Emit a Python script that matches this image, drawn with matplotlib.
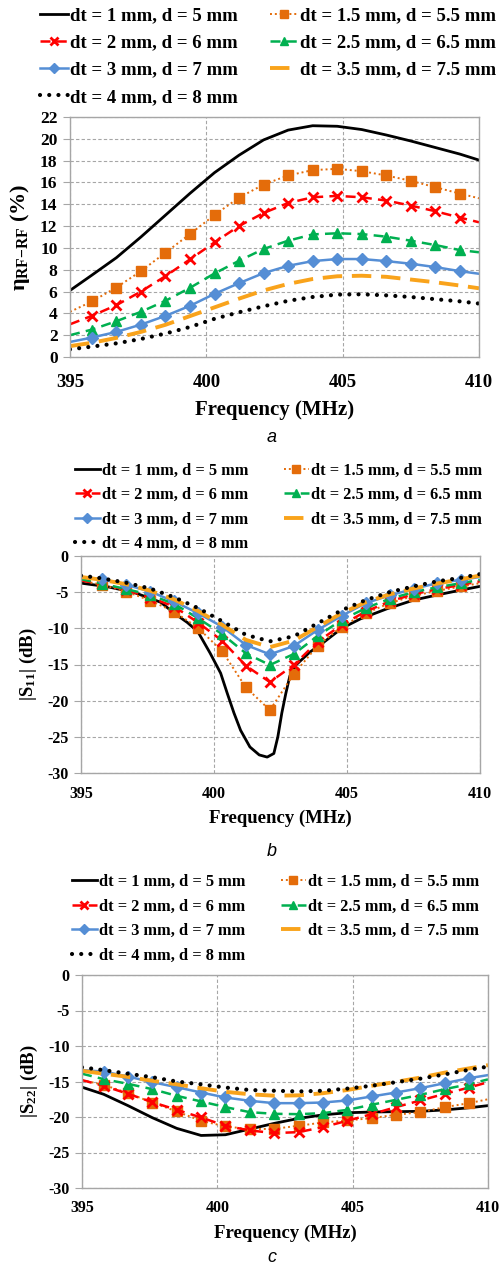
import matplotlib
matplotlib.use("Agg")
import matplotlib.pyplot as plt
from matplotlib.lines import Line2D

plt.rcParams['font.family'] = ['Liberation Serif', 'DejaVu Serif']
plt.rcParams['font.weight'] = 'bold'
plt.rcParams['axes.unicode_minus'] = False
plt.rcParams['mathtext.fontset'] = 'custom'
plt.rcParams['mathtext.rm'] = 'Liberation Serif:bold'
plt.rcParams['mathtext.it'] = 'Liberation Serif:bold'
plt.rcParams['mathtext.bf'] = 'Liberation Serif:bold'

# ---------------- data ----------------
freq = [395, 395.8, 396.7, 397.6, 398.5, 399.4, 400.3, 401.2, 402.1, 403.0,
        403.9, 404.8, 405.7, 406.6, 407.5, 408.4, 409.3, 410]

labels = ["dt = 1 mm, d = 5 mm", "dt = 1.5 mm, d = 5.5 mm", "dt = 2 mm, d = 6 mm",
          "dt = 2.5 mm, d = 6.5 mm", "dt = 3 mm, d = 7 mm", "dt = 3.5 mm, d = 7.5 mm",
          "dt = 4 mm, d = 8 mm"]

# (a) efficiency (%)
eff_dt1 = [6.1, 7.5, 9.1, 11.0, 13.0, 15.0, 16.9, 18.5, 19.9, 20.8, 21.2, 21.15, 20.85, 20.35, 19.8, 19.2, 18.6, 18.05]
eff_dt15 = [4.14, 5.09, 6.37, 7.87, 9.56, 11.27, 13.02, 14.61, 15.81, 16.64, 17.13, 17.25, 17.03, 16.64, 16.15, 15.56, 14.98, 14.55]
eff_dt2 = [3.0, 3.77, 4.75, 6.0, 7.41, 8.95, 10.51, 12.01, 13.2, 14.12, 14.64, 14.77, 14.64, 14.34, 13.88, 13.36, 12.78, 12.35]
eff_dt25 = [2.0, 2.51, 3.28, 4.14, 5.15, 6.34, 7.66, 8.82, 9.9, 10.66, 11.24, 11.34, 11.27, 11.03, 10.66, 10.26, 9.8, 9.6]
eff_dt3 = [1.38, 1.78, 2.3, 2.97, 3.77, 4.69, 5.79, 6.77, 7.69, 8.36, 8.79, 8.98, 8.98, 8.79, 8.55, 8.24, 7.87, 7.63]
eff_dt35 = [1.0, 1.3, 1.75, 2.3, 2.95, 3.75, 4.55, 5.35, 6.1, 6.7, 7.15, 7.4, 7.45, 7.35, 7.1, 6.85, 6.55, 6.3]
eff_dt4 = [0.7, 0.95, 1.25, 1.65, 2.15, 2.75, 3.5, 4.1, 4.65, 5.15, 5.5, 5.72, 5.75, 5.65, 5.5, 5.3, 5.1, 4.9]

# (b) |S11| (dB)
freq_s11_dt1 = [395, 396, 397, 398, 398.5, 399, 399.4, 399.85, 400.25, 400.5, 400.75, 401.0,
                401.35, 401.7, 402.0, 402.25, 402.4, 402.55, 402.7, 402.85, 403.1, 403.6,
                404.1, 404.8, 405.5, 406.5, 407.5, 408.5, 409.3, 410]
s11_dt1 = [-3.75, -4.25, -5.05, -6.4, -7.9, -9.2, -10.5, -13.4, -16.2, -19.0, -21.7, -24.1,
           -26.4, -27.5, -27.8, -27.3, -25.0, -21.7, -19.0, -16.6, -15.0, -13.3,
           -12.0, -10.0, -8.7, -7.3, -6.1, -5.3, -4.7, -4.2]
s11_dt15 = [-3.4, -3.98, -4.91, -6.16, -7.68, -9.94, -13.13, -18.17, -21.31, -16.32, -12.39, -9.76, -7.91, -6.53, -5.51, -4.81, -4.21, -3.75]
s11_dt2 = [-3.4, -3.89, -4.68, -5.74, -6.99, -9.2, -11.7, -15.17, -17.43, -15.07, -11.84, -9.53, -7.68, -6.29, -5.28, -4.58, -3.98, -3.5]
s11_dt25 = [-3.2, -3.84, -4.58, -5.37, -6.62, -8.6, -10.78, -13.46, -15.07, -13.55, -11.05, -8.84, -7.22, -5.92, -5.0, -4.31, -3.75, -3.3]
s11_dt3 = [-2.9, -3.2, -3.98, -4.91, -6.29, -7.91, -9.76, -12.3, -13.6, -12.44, -10.22, -8.28, -6.52, -5.46, -4.54, -3.75, -3.29, -2.9]
s11_dt35 = [-2.9, -3.3, -3.9, -4.8, -6.0, -7.6, -9.5, -11.6, -12.6, -11.7, -9.8, -7.9, -6.4, -5.3, -4.5, -3.8, -3.2, -2.7]
s11_dt4 = [-2.7, -3.1, -3.7, -4.5, -5.7, -7.2, -9.0, -10.9, -11.8, -11.1, -9.3, -7.5, -6.1, -5.0, -4.2, -3.5, -3.0, -2.5]

# (c) |S22| (dB)
s22_dt1 = [-15.8, -16.8, -18.4, -20.1, -21.6, -22.6, -22.5, -21.7, -20.9, -20.2, -19.7, -19.4, -19.3, -19.25, -19.2, -19.0, -18.7, -18.4]
s22_dt15 = [-14.8, -15.47, -16.64, -17.96, -19.22, -20.53, -21.33, -21.71, -21.66, -21.24, -20.77, -20.49, -20.16, -19.69, -19.32, -18.61, -18.05, -17.5]
s22_dt2 = [-14.8, -15.61, -16.74, -17.91, -18.99, -20.07, -21.24, -21.89, -22.27, -22.13, -21.43, -20.53, -19.6, -18.61, -17.67, -16.74, -15.85, -15.1]
s22_dt25 = [-13.9, -14.67, -15.33, -16.08, -17.02, -17.81, -18.61, -19.32, -19.55, -19.6, -19.46, -18.99, -18.28, -17.58, -16.88, -16.08, -15.38, -14.7]
s22_dt3 = [-13.4, -13.6, -14.3, -15.1, -15.8, -16.55, -17.25, -17.72, -18.05, -18.05, -17.96, -17.67, -17.11, -16.55, -15.94, -15.24, -14.53, -14.1]
s22_dt35 = [-13.5, -13.9, -14.35, -14.9, -15.4, -15.95, -16.45, -16.8, -17.0, -16.95, -16.65, -16.2, -15.6, -15.05, -14.45, -13.75, -13.15, -12.7]
s22_dt4 = [-13.0, -13.4, -13.9, -14.4, -15.0, -15.4, -15.85, -16.2, -16.3, -16.4, -16.3, -16.0, -15.6, -15.1, -14.6, -14.0, -13.35, -12.9]

# ---------------- styles ----------------
C_BLACK = '#000000'
C_ORANGE = '#E46C0A'
C_RED = '#FF0000'
C_GREEN = '#00B050'
C_BLUE = '#558ED5'
C_GOLD = '#F9A31B'

styles = [
    dict(color=C_BLACK, lw=2.0, ls='-'),
    dict(color=C_ORANGE, lw=1.4, ls=(0, (1, 1.5)), marker='s', ms=7, mec=C_ORANGE, mfc=C_ORANGE),
    dict(color=C_RED, lw=1.8, ls=(0, (4, 2.5)), marker='x', ms=7, mew=2.0),
    dict(color=C_GREEN, lw=1.8, ls=(0, (4, 2.5)), marker='^', ms=7.5),
    dict(color=C_BLUE, lw=1.8, ls='-', marker='D', ms=6.5),
    dict(color=C_GOLD, lw=2.8, ls=(0, (5, 2.5))),
    dict(color=C_BLACK, lw=3.0, ls=(0, (0.01, 2.2)), dash_capstyle='round'),
]

GRID_C = '#A6A6A6'
SPINE_C = '#A6A6A6'

W, H = 504, 1263
fig = plt.figure(figsize=(W / 100, H / 100), dpi=100)


def axes_px(l, r, t, b):
    return fig.add_axes([l / W, 1 - b / H, (r - l) / W, (b - t) / H])


def style_axes(ax, yticks, ylim, tick_fs, xpad):
    ax.set_xlim(395, 410)
    ax.set_ylim(*ylim)
    ax.set_xticks([395, 400, 405, 410])
    ax.set_yticks(yticks)
    ax.grid(True, color=GRID_C, ls=(0, (3, 2)), lw=0.8)
    ax.set_axisbelow(True)
    for s in ax.spines.values():
        s.set_color(SPINE_C)
        s.set_linewidth(1.0)
    ax.tick_params(axis='both', length=5, color=SPINE_C, labelsize=tick_fs, pad=4)
    ax.tick_params(axis='x', length=0, pad=xpad)
    for lab in ax.get_xticklabels() + ax.get_yticklabels():
        lab.set_fontweight('bold')


def draw_series(ax, xs_list, ys_list):
    for i, (xs, ys) in enumerate(zip(xs_list, ys_list)):
        st = dict(styles[i])
        if 'marker' in st:
            ax.plot(xs, ys, markevery=slice(1, len(xs) - 1), **st)
        else:
            ax.plot(xs, ys, **st)


def legend_handles():
    return [Line2D([0], [0], **dict(st)) for st in styles]


order = [0, 2, 4, 6, 1, 3, 5]


def add_legend(ax, anchor_px, fs, colsp, lsp):
    hs = legend_handles()
    leg = ax.legend([hs[i] for i in order], [labels[i] for i in order],
                    loc='upper left',
                    bbox_to_anchor=(anchor_px[0] / W, 1 - anchor_px[1] / H),
                    bbox_transform=fig.transFigure,
                    ncol=2, frameon=False, fontsize=fs, handlelength=1.5,
                    handletextpad=0.12, columnspacing=colsp, labelspacing=lsp,
                    borderpad=0, borderaxespad=0, markerscale=0.75)
    for t in leg.get_texts():
        t.set_fontweight('bold')
    return leg


# ---------------- panel a ----------------
axa = axes_px(70, 479, 117, 357)
draw_series(axa, [freq] * 7, [eff_dt1, eff_dt15, eff_dt2, eff_dt25, eff_dt3, eff_dt35, eff_dt4])
style_axes(axa, list(range(0, 23, 2)), (0, 22), 12.5, 12)
for lab in axa.get_xticklabels():
    lab.set_fontsize(13.5)
axa.set_xlabel('Frequency (MHz)', fontsize=15, fontweight='bold', labelpad=7)
axa.set_ylabel(r'$\eta_{\mathrm{RF{-}RF}}$ (%)', fontsize=16, fontweight='bold', labelpad=6)
add_legend(axa, (40, 7), 13.5, 1.7, 0.54)
fig.text(272 / W, 1 - 437 / H, 'a', ha='center', va='center', fontsize=13,
         style='italic', family='Liberation Sans', fontweight='normal')

# ---------------- panel b ----------------
axb = axes_px(81, 480, 556, 773)
draw_series(axb, [freq_s11_dt1] + [freq] * 6, [s11_dt1, s11_dt15, s11_dt2, s11_dt25, s11_dt3, s11_dt35, s11_dt4])
style_axes(axb, list(range(-30, 1, 5)), (-30, 0), 11.5, 9)
axb.set_xlabel('Frequency (MHz)', fontsize=13.5, fontweight='bold', labelpad=6)
axb.set_ylabel(r'|S$_{11}$| (dB)', fontsize=13.5, fontweight='bold', labelpad=6)
add_legend(axb, (75, 463), 11.8, 2.2, 0.5)
fig.text(272 / W, 1 - 851 / H, 'b', ha='center', va='center', fontsize=13,
         style='italic', family='Liberation Sans', fontweight='normal')

# ---------------- panel c ----------------
axc = axes_px(82, 488, 975, 1188)
draw_series(axc, [freq] * 7, [s22_dt1, s22_dt15, s22_dt2, s22_dt25, s22_dt3, s22_dt35, s22_dt4])
style_axes(axc, list(range(-30, 1, 5)), (-30, 0), 11.5, 9)
axc.set_xlabel('Frequency (MHz)', fontsize=13.5, fontweight='bold', labelpad=6)
axc.set_ylabel(r'|S$_{22}$| (dB)', fontsize=13.5, fontweight='bold', labelpad=6)
add_legend(axc, (72, 874), 11.8, 2.2, 0.52)
fig.text(272 / W, 1 - 1257 / H, 'c', ha='center', va='center', fontsize=13,
         style='italic', family='Liberation Sans', fontweight='normal')

fig.savefig('out.png', dpi=100)
